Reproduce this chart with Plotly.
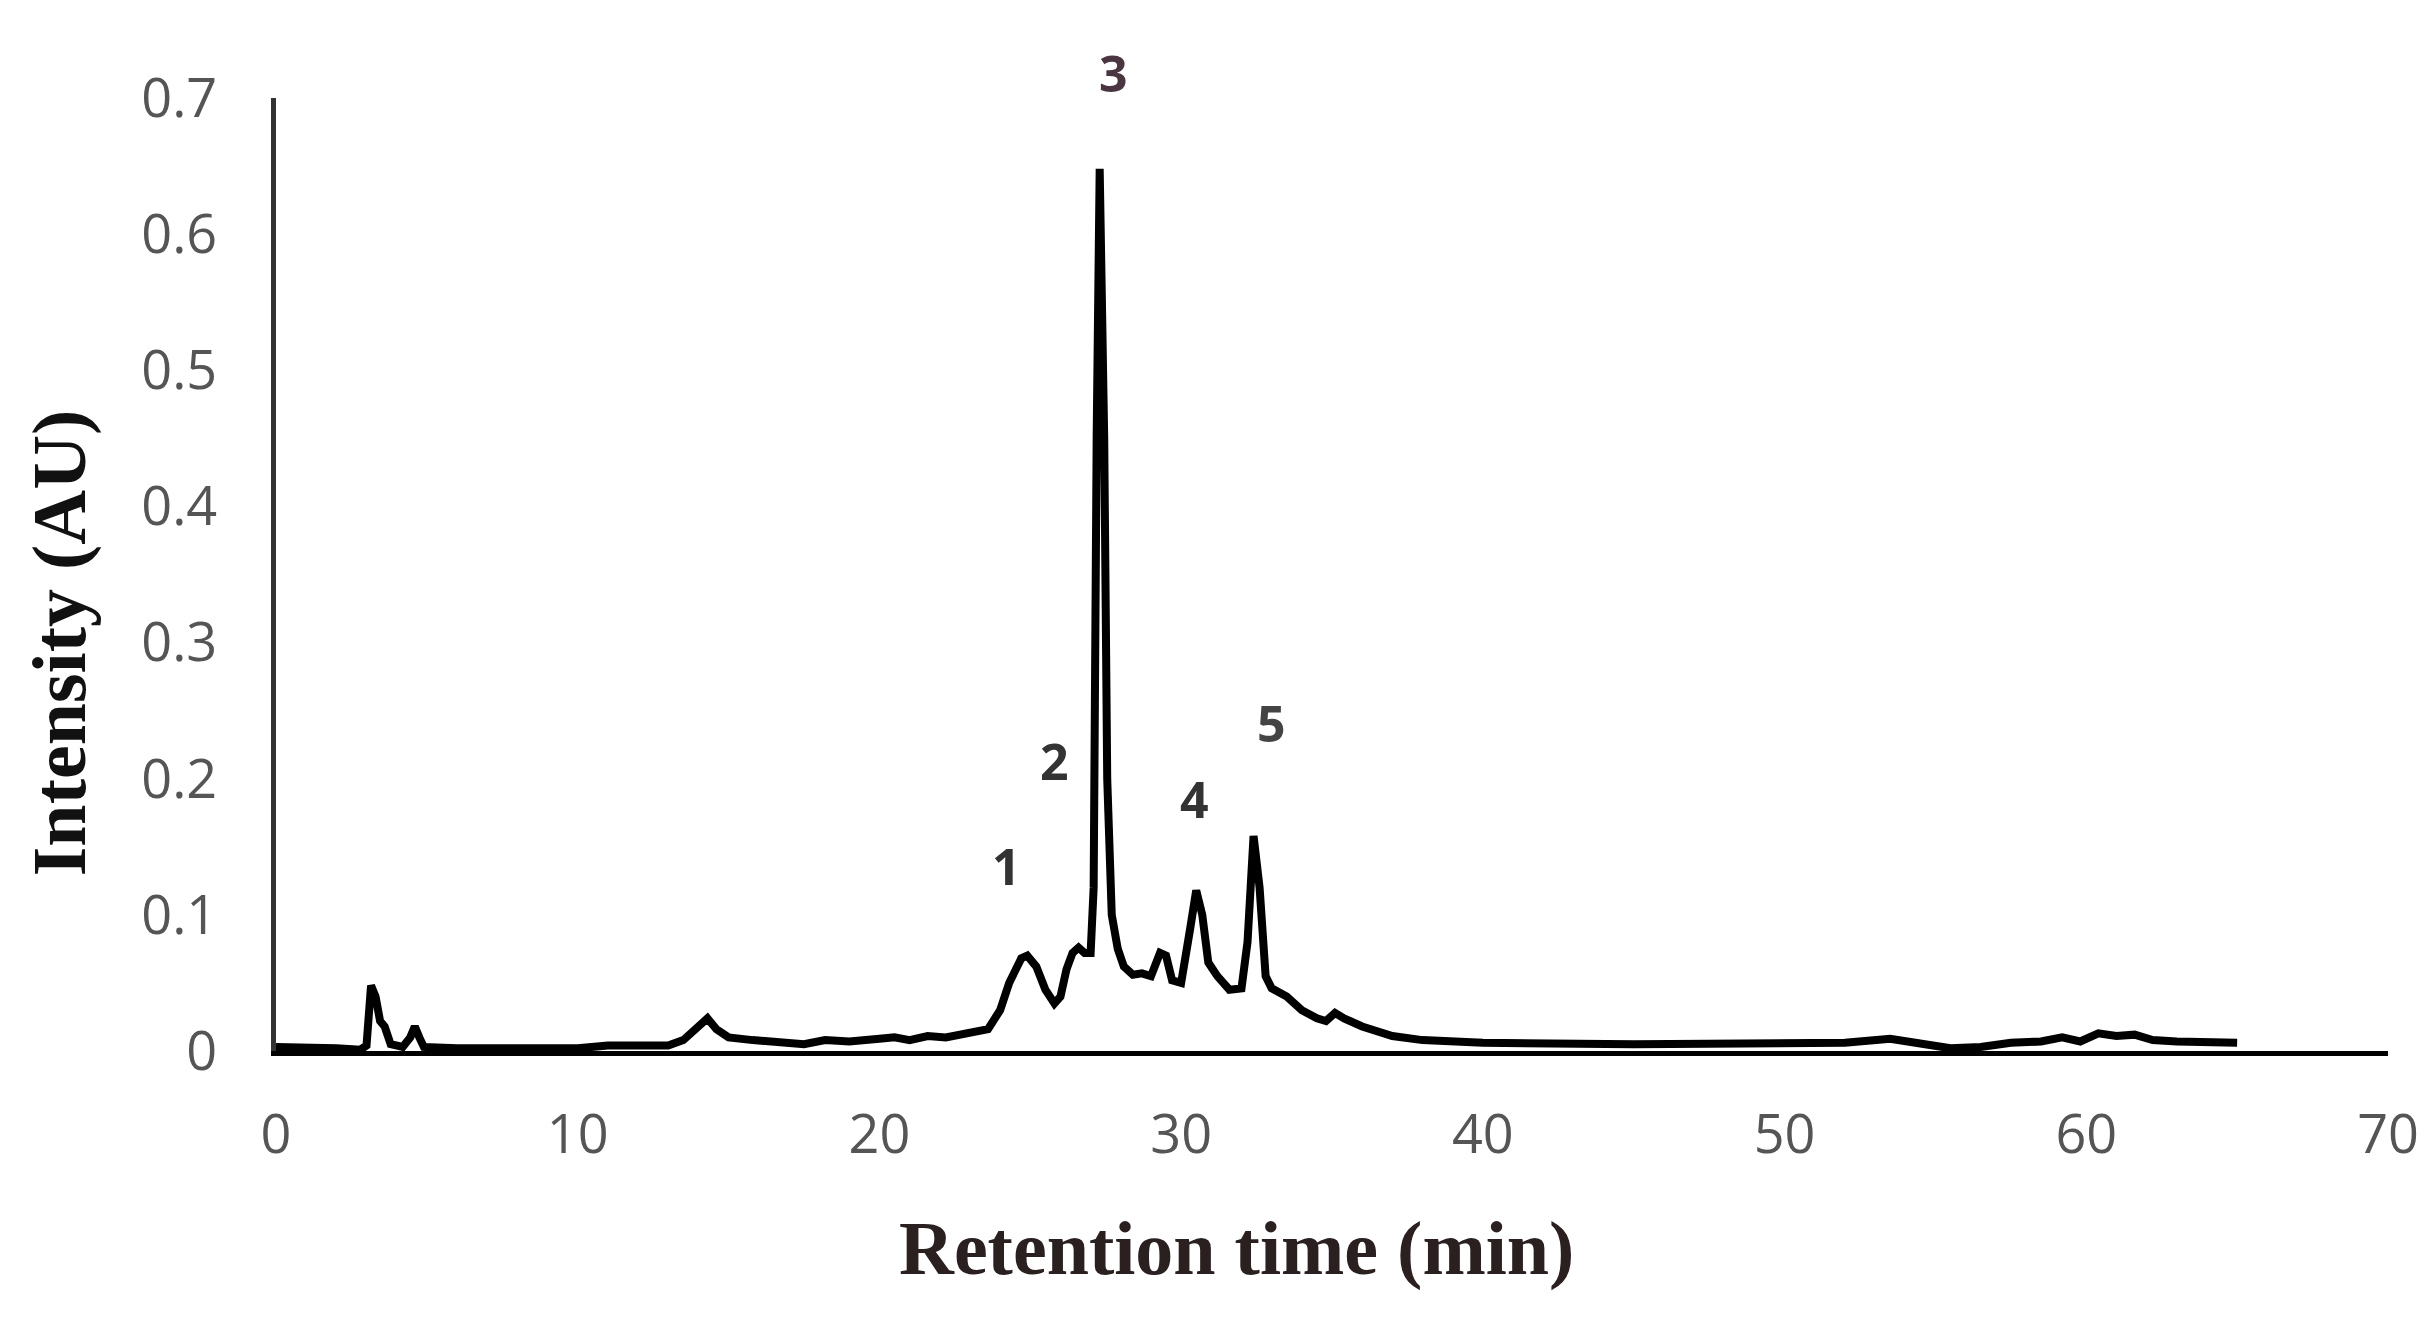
import plotly.graph_objects as go

# Chromatogram data (retention time in min, intensity in AU)
time_min = [0.0, 1.0, 2.0, 2.8, 3.0, 3.15, 3.3, 3.45, 3.6, 3.8, 4.2, 4.45, 4.6, 4.75, 4.9,
            6.0, 8.0, 10.0, 11.0, 12.0, 13.0, 13.5, 14.0, 14.3, 14.6, 15.0, 15.8, 16.5, 17.0,
            17.5, 18.2, 19.0, 20.0, 20.5, 21.0, 21.6, 22.2, 23.0, 23.6, 24.0, 24.3, 24.7, 24.9,
            25.2, 25.5, 25.8, 26.0, 26.2, 26.4, 26.6, 26.8, 27.0, 27.1, 27.2, 27.3, 27.45, 27.55,
            27.7, 27.9, 28.1, 28.4, 28.7, 29.0, 29.3, 29.5, 29.7, 30.0, 30.3, 30.5, 30.7, 30.9,
            31.2, 31.6, 32.0, 32.2, 32.4, 32.6, 32.8, 33.0, 33.5, 34.0, 34.5, 34.8, 35.1, 35.4,
            36.0, 37.0, 38.0, 40.0, 45.0, 50.0, 52.0, 53.5, 54.5, 55.5, 56.5, 57.5, 58.5, 59.2,
            59.8, 60.4, 61.0, 61.6, 62.2, 63.0, 65.0]
intensity = [0.003, 0.003, 0.002, 0.001, 0.004, 0.048, 0.040, 0.022, 0.018, 0.005, 0.003, 0.010, 0.018, 0.010, 0.003,
             0.002, 0.002, 0.002, 0.004, 0.004, 0.004, 0.008, 0.018, 0.024, 0.016, 0.010, 0.008, 0.007, 0.006,
             0.005, 0.008, 0.007, 0.009, 0.010, 0.008, 0.011, 0.010, 0.013, 0.016, 0.030, 0.050, 0.068, 0.070,
             0.062, 0.045, 0.035, 0.040, 0.060, 0.072, 0.076, 0.072, 0.072, 0.120, 0.450, 0.648, 0.450, 0.200,
             0.100, 0.075, 0.062, 0.056, 0.057, 0.055, 0.072, 0.070, 0.052, 0.050, 0.090, 0.118, 0.100, 0.065,
             0.055, 0.045, 0.046, 0.080, 0.158, 0.120, 0.055, 0.046, 0.040, 0.030, 0.024, 0.022, 0.028, 0.024,
             0.018, 0.011, 0.008, 0.006, 0.005, 0.005, 0.006, 0.009, 0.006, 0.002, 0.003, 0.006, 0.007, 0.010,
             0.007, 0.013, 0.011, 0.012, 0.008, 0.007, 0.006]

# Peak labels (x in minutes, y in AU)
peak_names = ["1", "2", "3", "4", "5"]
peak_label_x = [24.2, 25.8, 27.75, 30.45, 33.0]
peak_label_y = [0.136, 0.213, 0.718, 0.185, 0.241]
peak_label_colors = ["#333333", "#333333", "#4a3540", "#333333", "#444444"]

x_ticks = [0, 10, 20, 30, 40, 50, 60, 70]
y_ticks = [0, 0.1, 0.2, 0.3, 0.4, 0.5, 0.6, 0.7]
y_tick_text = ["0", "0.1", "0.2", "0.3", "0.4", "0.5", "0.6", "0.7"]
Y_MAX = 0.7

fig = go.Figure()
fig.add_trace(go.Scatter(x=time_min, y=intensity, mode="lines",
                         line=dict(color="black", width=8), showlegend=False))

for name, px, py, col in zip(peak_names, peak_label_x, peak_label_y, peak_label_colors):
    fig.add_annotation(x=px, y=py / Y_MAX, xref="x", yref="paper", text=f"<b>{name}</b>",
                       xanchor="center", yanchor="middle",
                       showarrow=False, font=dict(family="Open Sans", size=50, color=col))

fig.add_annotation(x=-0.1027, y=0.428, xref="paper", yref="paper", text="<b>Intensity (AU)</b>",
                   textangle=-90, showarrow=False, xanchor="center", yanchor="middle",
                   font=dict(family="Liberation Serif", size=76, color="#111111"))
fig.add_annotation(x=0.455, y=-0.207, xref="paper", yref="paper", text="<b>Retention time (min)</b>",
                   showarrow=False, xanchor="center", yanchor="middle",
                   font=dict(family="Liberation Serif", size=76, color="#2a2020"))

fig.update_layout(
    width=2431, height=1320,
    margin=dict(l=268, r=51, t=90, b=277),
    paper_bgcolor="white", plot_bgcolor="white",
)
fig.update_xaxes(range=[0, 70], tickvals=x_ticks, showgrid=False, zeroline=False,
                 showline=True, linecolor="black", linewidth=5,
                 ticks="", ticklabelstandoff=32,
                 tickfont=dict(family="Open Sans", size=54, color="#555555"))
fig.update_yaxes(range=[0, Y_MAX], tickvals=y_ticks, ticktext=y_tick_text, showgrid=False, zeroline=False,
                 showline=True, linecolor="#333333", linewidth=5,
                 ticks="", ticklabelstandoff=43,
                 tickfont=dict(family="Open Sans", size=54, color="#555555"))

fig.write_html("out.html")
